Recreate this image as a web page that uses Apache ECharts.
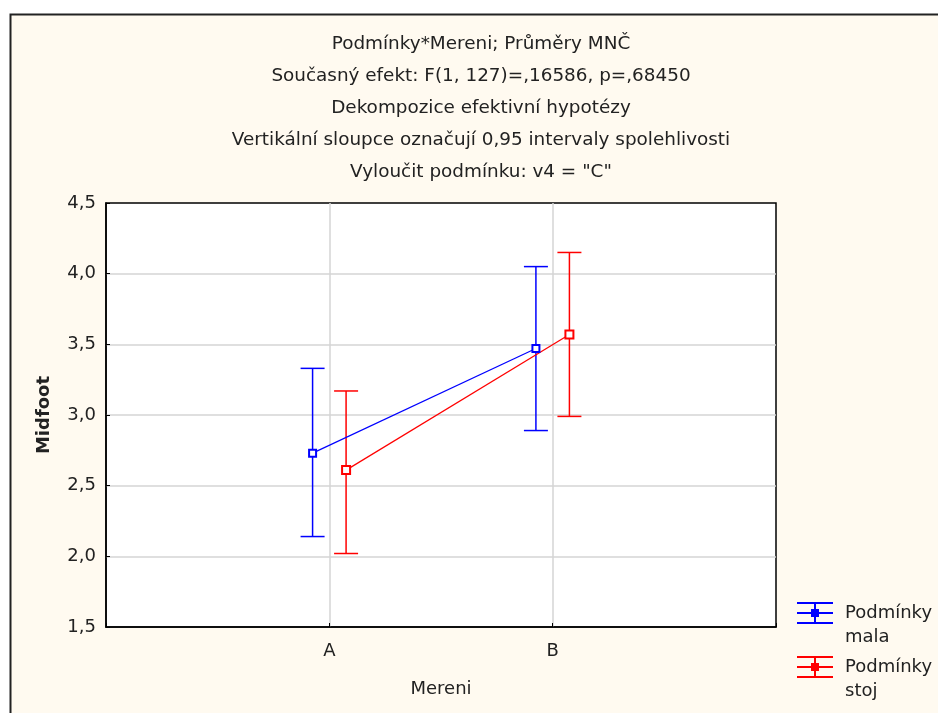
<!DOCTYPE html>
<html>
<head>
<meta charset="utf-8">
<script src="https://cdn.jsdelivr.net/npm/echarts@6/dist/echarts.min.js"></script>
<style>
  html, body { margin: 0; padding: 0; background: #fff; }
  #chart { width: 938px; height: 713px; }
</style>
</head>
<body>
<div id="chart"></div>
<script>
// data
const categories = ["A", "B"];
const malaMean = [2.73, 3.47];
const malaLow = [2.14, 2.89];
const malaHigh = [3.33, 4.05];
const stojMean = [2.61, 3.57];
const stojLow = [2.02, 2.99];
const stojHigh = [3.17, 4.15];
const yTicks = [1.5, 2.0, 2.5, 3.0, 3.5, 4.0, 4.5];
const titleLines = [
  "Podmínky*Mereni; Průměry MNČ",
  "Současný efekt: F(1, 127)=,16586, p=,68450",
  "Dekompozice efektivní hypotézy",
  "Vertikální sloupce označují 0,95 intervaly spolehlivosti",
  "Vyloučit podmínku: v4 = \"C\""
];

const FONT = "DejaVu Sans";
const FS = 18;
const BLUE = "#0000ff";
const RED = "#ff0000";

let chart = echarts.init(document.getElementById("chart"));

// x position = category index + 1, shifted a little per group
function points(mean, shift) {
  return mean.map((v, i) => [i + 1 + shift, v]);
}
function bars(low, high, shift) {
  return low.map((v, i) => [i + 1 + shift, v, high[i]]);
}

function errorBar(color) {
  return function (params, api) {
    let x = api.value(0);
    let lo = api.coord([x, api.value(1)]);
    let hi = api.coord([x, api.value(2)]);
    let w = 12;
    let style = { stroke: color, lineWidth: 1.5 };
    return {
      type: "group",
      children: [
        { type: "line", shape: { x1: lo[0], y1: lo[1], x2: hi[0], y2: hi[1] }, style: style },
        { type: "line", shape: { x1: lo[0] - w, y1: lo[1], x2: lo[0] + w, y2: lo[1] }, style: style },
        { type: "line", shape: { x1: hi[0] - w, y1: hi[1], x2: hi[0] + w, y2: hi[1] }, style: style }
      ]
    };
  };
}

const legendIcon = "path://M0 0h36v2H0z M0 10h36v2H0z M0 20h36v2H0z M17 0h2v22h-2z M14 7h8v8h-8z";

// an empty first line keeps the first word level with the icon
function legendBox(name, color, top) {
  return {
    orient: "vertical",
    left: 797,
    top: top,
    padding: 0,
    itemWidth: 36,
    itemHeight: 22,
    selectedMode: false,
    formatter: function (n) {
      return " \n" + n.replace(" ", "\n");
    },
    textStyle: {
      fontFamily: FONT,
      fontSize: FS,
      color: "#222",
      lineHeight: 24,
      padding: [0, 0, 0, 7]
    },
    data: [{ name: name, icon: legendIcon, itemStyle: { color: color, borderWidth: 0 } }]
  };
}

let option = {
  backgroundColor: "#fff",
  animation: false,
  graphic: [
    {
      type: "rect",
      z: -10,
      shape: { x: 10.5, y: 14.5, width: 1000, height: 1000 },
      style: { fill: "#fffaf0", stroke: "#222", lineWidth: 2 }
    }
  ],
  title: {
    text: titleLines.join("\n"),
    left: 481,
    top: 28,
    padding: 0,
    textAlign: "center",
    textStyle: {
      fontFamily: FONT,
      fontSize: 18.4,
      fontWeight: "normal",
      color: "#222",
      lineHeight: 32
    }
  },
  legend: [
    legendBox("Podmínky mala", BLUE, 577),
    legendBox("Podmínky stoj", RED, 631)
  ],
  grid: {
    left: 106,
    right: 162,
    top: 203,
    bottom: 86,
    show: true,
    backgroundColor: "#fff",
    borderColor: "#000",
    borderWidth: 1.5
  },
  xAxis: {
    type: "value",
    min: 0,
    max: categories.length + 1,
    interval: 1,
    name: "Mereni",
    nameLocation: "middle",
    nameGap: 53,
    nameTextStyle: { fontFamily: FONT, fontSize: FS, color: "#222" },
    axisLine: { show: true, lineStyle: { color: "#000", width: 1.5 } },
    axisTick: { show: true, inside: true, length: 4, lineStyle: { color: "#000" } },
    axisLabel: {
      fontFamily: FONT,
      fontSize: FS,
      color: "#222",
      margin: 15,
      formatter: function (v) {
        return categories[v - 1] || "";
      }
    },
    splitLine: { show: true, showMinLine: false, showMaxLine: false, lineStyle: { color: "#d4d4d4", width: 1.5 } }
  },
  yAxis: {
    type: "value",
    min: yTicks[0],
    max: yTicks[yTicks.length - 1],
    interval: 0.5,
    name: "Midfoot",
    nameLocation: "middle",
    nameRotate: 90,
    nameGap: 53,
    nameTextStyle: { fontFamily: FONT, fontSize: FS, fontWeight: "bold", color: "#222" },
    axisLine: { show: true, lineStyle: { color: "#000", width: 1.5 } },
    axisTick: { show: true, inside: true, length: 4, lineStyle: { color: "#000" } },
    axisLabel: {
      fontFamily: FONT,
      fontSize: FS,
      color: "#222",
      margin: 10,
      formatter: function (v) {
        return v.toFixed(1).replace(".", ",");
      }
    },
    splitLine: { show: true, showMinLine: false, showMaxLine: false, lineStyle: { color: "#d4d4d4", width: 1.5 } }
  },
  series: [
    {
      name: "Podmínky mala",
      type: "line",
      data: points(malaMean, -0.075),
      symbol: "emptyRect",
      symbolSize: 7,
      color: BLUE,
      lineStyle: { color: BLUE, width: 1.2 },
      itemStyle: { color: BLUE, borderWidth: 1.5 },
      z: 3
    },
    {
      name: "Podmínky stoj",
      type: "line",
      data: points(stojMean, 0.075),
      symbol: "emptyRect",
      symbolSize: 8,
      color: RED,
      lineStyle: { color: RED, width: 1.2 },
      itemStyle: { color: RED, borderWidth: 1.5 },
      z: 3
    },
    {
      type: "custom",
      renderItem: errorBar(BLUE),
      data: bars(malaLow, malaHigh, -0.075),
      encode: { x: 0, y: [1, 2] },
      z: 2
    },
    {
      type: "custom",
      renderItem: errorBar(RED),
      data: bars(stojLow, stojHigh, 0.075),
      encode: { x: 0, y: [1, 2] },
      z: 2
    }
  ]
};

option && chart.setOption(option);
</script>
</body>
</html>
